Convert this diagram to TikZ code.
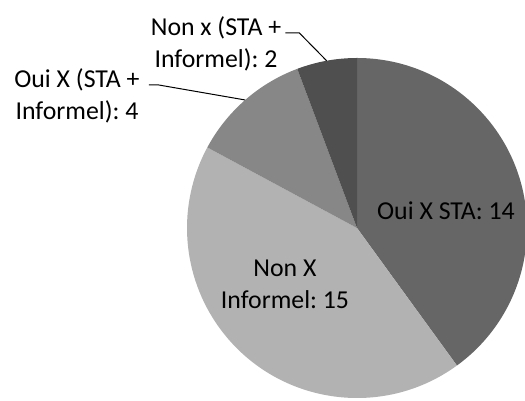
\documentclass[tikz,border=0pt]{standalone}
\usepackage{fontspec}
\setmainfont{Carlito}
\frenchspacing

\definecolor{staGray}{HTML}{666666}
\definecolor{infGray}{HTML}{B2B2B2}
\definecolor{ouiGray}{HTML}{878787}
\definecolor{nonGray}{HTML}{4F4F4F}

\begin{document}
\begin{tikzpicture}[x=1pt, y=1pt,
    pielabel/.style={font=\fontsize{25.8}{32}\selectfont, align=center, inner sep=0pt},
    leader/.style={black, line width=1pt}]
    \useasboundingbox (0,0) rectangle (525,401);

    % Centre and radius of the pie
    \coordinate (c) at (357,173);
    \def\rad{170}

    % Slices, clockwise from the top (14, 15, 4, 2 out of 35)
    \fill[staGray] (c) -- ++(90:\rad) arc[start angle=90, end angle=-54, radius=\rad] -- cycle;
    \fill[infGray] (c) -- ++(-54:\rad) arc[start angle=-54, end angle=-208.29, radius=\rad] -- cycle;
    \fill[ouiGray] (c) -- ++(151.71:\rad) arc[start angle=151.71, end angle=110.57, radius=\rad] -- cycle;
    \fill[nonGray] (c) -- ++(110.57:\rad) arc[start angle=110.57, end angle=90, radius=\rad] -- cycle;

    % Labels inside the pie
    \node[pielabel, anchor=base] (sta) at (446,181) {Oui X STA: 14};
    \node[pielabel] (inf) at (285,117) {Non X\\Informel: 15};

    % Labels outside, with leader lines
    \node[pielabel] (nonx) at (216,357) {Non x (STA +\\Informel): 2};
    \node[pielabel] (ouix) at (77,305) {Oui X (STA +\\Informel): 4};

    \path (c) ++(100.29:\rad) coordinate (nonx-tip);
    \path (c) ++(131.14:\rad) coordinate (ouix-tip);

    \draw[leader] (nonx.east) ++(4,11) -- ++(14,0) -- (nonx-tip);
    \draw[leader] (ouix.east) ++(9,11) -- ++(10,0) -- (ouix-tip);
\end{tikzpicture}
\end{document}
